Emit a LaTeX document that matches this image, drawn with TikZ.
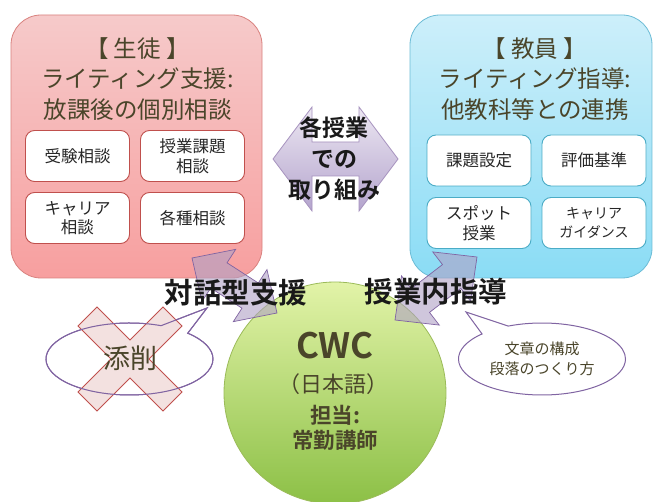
\documentclass[tikz,border=0pt]{standalone}
\usepackage{fontspec}
\setmainfont{Noto Sans CJK JP}[BoldFont={Noto Sans CJK JP Bold}]
\usetikzlibrary{calc,shapes.callouts,shapes.geometric}
\definecolor{pinkT}{HTML}{F6CACA}
\definecolor{pinkB}{HTML}{F79F9F}
\definecolor{pinkD}{HTML}{D9827F}
\definecolor{blueT}{HTML}{CDEFFA}
\definecolor{blueB}{HTML}{8ADCF5}
\definecolor{blueD}{HTML}{6CBCD6}
\definecolor{redD}{HTML}{C0504D}
\definecolor{tealD}{HTML}{4BACC6}
\definecolor{greenT}{HTML}{E2F3A8}
\definecolor{greenB}{HTML}{8CC046}
\definecolor{greenD}{HTML}{9BBB59}
\definecolor{lavT}{HTML}{ECE7F2}
\definecolor{lavB}{HTML}{B4A4CD}
\definecolor{lavD}{HTML}{8064A2}
\definecolor{olive}{HTML}{4A452A}
\definecolor{xfill}{HTML}{F2DCDB}
\newcommand\dblarrow[6]{%
  \coordinate (#1-h) at ($(#1)!#3!(#2)$);
  \coordinate (#2-h) at ($(#2)!#3!(#1)$);
  \path[#6] (#1) -- ($(#1-h)!#4!90:(#2)$) -- ($(#1-h)!#5!90:(#2)$)
    -- ($(#2-h)!#5!-90:(#1)$) -- ($(#2-h)!#4!-90:(#1)$) -- (#2)
    -- ($(#2-h)!#4!90:(#1)$) -- ($(#2-h)!#5!90:(#1)$)
    -- ($(#1-h)!#5!-90:(#2)$) -- ($(#1-h)!#4!-90:(#2)$) -- cycle;}
\tikzset{
  bigbox/.style={rounded corners=30pt, line width=0.8pt, minimum width=251pt, minimum height=263pt},
  pinkbox/.style={bigbox, draw=pinkD, top color=pinkT, bottom color=pinkB},
  bluebox/.style={bigbox, draw=blueD, top color=blueT, bottom color=blueB, minimum width=242pt},
  subbox/.style={rounded corners=9pt, fill=white, line width=0.9pt, minimum width=104pt, minimum height=51pt,
    align=center, text=black!85, font=\fontsize{16.5}{19.5}\selectfont},
  psub/.style={subbox, draw=redD},
  bsub/.style={subbox, draw=tealD},
  titletext/.style={align=center, text=olive, font=\fontsize{23.5}{30.5}\selectfont},
  boldlabel/.style={text=black!90, font=\bfseries\fontsize{28.5}{30}\selectfont},
  midlabel/.style={align=center, text=black!90, font=\bfseries\fontsize{23}{31}\selectfont},
  midarrow/.style={draw=lavD!70, line width=0.8pt, top color=lavT, bottom color=lavB},
  diagarrow/.style={draw=lavD, line width=0.7pt, fill=lavB!90!gray, fill opacity=0.6},
  bubble/.style={ellipse callout, draw=lavD, line width=1pt, fill=white, inner sep=0pt,
    minimum width=167pt, minimum height=72pt, callout pointer arc=22},
  xmark/.style={draw=redD, line width=0.9pt, fill=xfill, fill opacity=0.85},
}
\begin{document}
\begin{tikzpicture}[x=1pt,y=-1pt]
\useasboundingbox (0,0) rectangle (653,502);
\clip (0,0) rectangle (653,502);
\fill[white] (0,0) rectangle (653,502);
% big boxes
\node[pinkbox] (stu) at (136.5,146.5) {};
\node[bluebox] (tea) at (531,146.5) {};
\node[titletext] (stut) at (137.5,79) {【 生徒 】\\ライティング支援:\\放課後の個別相談};
\node[titletext] (teat) at (535,79) {【 教員 】\\ライティング指導:\\他教科等との連携};
% sub boxes
\node[psub] (p1) at (77.5,156) {受験相談};
\node[psub] (p2) at (192.5,156) {授業課題\\相談};
\node[psub] (p3) at (77.5,218) {キャリア\\相談};
\node[psub] (p4) at (192.5,218) {各種相談};
\node[bsub] (b1) at (479,160.5) {課題設定};
\node[bsub] (b2) at (594,160.5) {評価基準};
\node[bsub] (b3) at (479,223) {スポット\\授業};
\node[bsub, font=\fontsize{14}{18.5}\selectfont] (b4) at (594,223) {キャリア\\ガイダンス};
% center arrow
\coordinate (mL) at (273,159);
\coordinate (mR) at (398,159);
\dblarrow{mL}{mR}{39pt}{52pt}{17pt}{midarrow}
\node[midlabel] (midt) at (334,159) {各授業\\での\\取り組み};
% circle
\node[circle, draw=greenD, line width=0.8pt, top color=greenT, bottom color=greenB, minimum size=222pt, inner sep=0pt] (cwc) at (335,393) {};
\node[text=olive, font=\bfseries\fontsize{35}{40}\selectfont] (cwct) at (335,346) {CWC};
\node[text=olive, font=\fontsize{22}{24}\selectfont] (jp) at (333,384) {（日本語）};
\node[text=olive, font=\bfseries\fontsize{21.5}{24}\selectfont] (tan) at (335,415) {担当:};
\node[text=olive, font=\bfseries\fontsize{21.5}{24}\selectfont] (jok) at (335,440) {常勤講師};
% diagonal arrows
\coordinate (lA) at (192,258);
\coordinate (lB) at (277,313);
\dblarrow{lA}{lB}{32pt}{31pt}{15pt}{diagarrow}
\coordinate (rA) at (477,257);
\coordinate (rB) at (395,320);
\dblarrow{rA}{rB}{32pt}{31pt}{15pt}{diagarrow}
\node[boldlabel] (taiwa) at (236,293) {対話型支援};
\node[boldlabel] (jugyo) at (436,292) {授業内指導};
% bubbles
\coordinate (lbp) at (207,308);
\coordinate (rbp) at (466,312);
\node[bubble, callout absolute pointer={(lbp)}] (lb) at (129.5,359) {};
\begin{scope}[shift={(130,359)}]
\path[xmark] (0,-19) -- (33,-52) -- (52,-33) -- (19,0) -- (52,33) -- (33,52) -- (0,19)
  -- (-33,52) -- (-52,33) -- (-19,0) -- (-52,-33) -- (-33,-52) -- cycle;
\end{scope}
\node[bubble, fill=none, callout absolute pointer={(lbp)}] (lb2) at (129.5,359) {};
\node[text=olive, font=\fontsize{27}{30}\selectfont] (tensaku) at (130,358) {添削};
\node[bubble, callout absolute pointer={(rbp)}, align=center, text=olive, font=\fontsize{15}{20}\selectfont] (rb) at (542,359) {文章の構成\\段落のつくり方};
\end{tikzpicture}
\end{document}
